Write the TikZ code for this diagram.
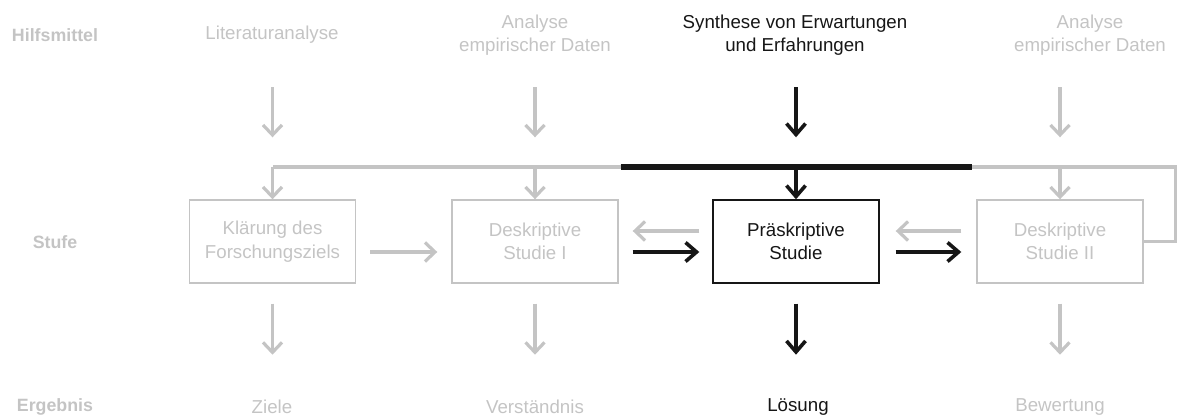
\documentclass[tikz,border=0pt]{standalone}
\usepackage{fontspec}
\setmainfont{Liberation Sans}
\usetikzlibrary{arrows.meta,calc}
\definecolor{hellgrau}{RGB}{196,196,196}
\definecolor{dunkel}{RGB}{22,22,22}

\begin{document}
\begin{tikzpicture}[x=1pt,y=-1pt,
    txt/.style={font=\fontsize{18.7}{23.5}\selectfont, align=center, text=hellgrau, inner sep=0pt},
    lab/.style={font=\fontsize{17.8}{22}\selectfont\bfseries, text=hellgrau, inner sep=0pt},
    stufe/.style={txt, draw=hellgrau, line width=1.4pt, minimum width=166pt, minimum height=83pt},
    gline/.style={draw=hellgrau, line width=3.2pt},
    bline/.style={draw=dunkel, line width=5pt},
    garr/.style={gline, -{Straight Barb[length=10pt,width=19pt]}},
    barr/.style={draw=dunkel, line width=3.6pt, -{Straight Barb[length=11pt,width=19pt]}}]
  \useasboundingbox (0,0) rectangle (1178,417);

  % Zeilenbeschriftung
  \node[lab] (hilfe) at (55,35) {Hilfsmittel};
  \node[lab] (stufe) at (55,242) {Stufe};
  \node[lab] (ergeb) at (55,407) {Ergebnis};

  % Hilfsmittel
  \node[txt] (in1) at (272,35) {Literaturanalyse};
  \node[txt] (in2) at (535,35) {Analyse\\empirischer Daten};
  \node[txt, text=dunkel] (in3) at (795,35) {Synthese von Erwartungen\\und Erfahrungen};
  \node[txt] (in4) at (1090,35) {Analyse\\empirischer Daten};

  % Stufen
  \node[stufe] (s1) at (272.5,241.5) {Kl\"arung des\\Forschungsziels};
  \node[stufe] (s2) at (535,241.5) {Deskriptive\\Studie I};
  \node[stufe, draw=dunkel, text=dunkel] (s3) at (796,241.5) {Pr\"askriptive\\Studie};
  \node[stufe] (s4) at (1060,241.5) {Deskriptive\\Studie II};

  % Ergebnisse
  \node[txt] (o1) at (272,407) {Ziele};
  \node[txt] (o2) at (535,407) {Verst\"andnis};
  \node[txt, text=dunkel] (o3) at (798,407) {L\"osung};
  \node[txt] (o4) at (1060,407) {Bewertung};

  % Pfeile von oben
  \foreach \n in {s1,s2,s4}
    \draw[garr] (\n.north) ++(0,-112) -- ++(0,50);
  \draw[barr] (s3.north) ++(0,-112) -- ++(0,50);

  % Rueckfuehrung
  \coordinate (bus) at (0,167);
  \draw[gline] (s4.east) -- ++(32,0) |- (s1.north |- bus);
  \foreach \n in {s1,s2,s4}
    \draw[garr] (\n.north |- bus) -- (\n.north);
  \draw[bline] ($(s3.north |- bus)+(-175.5,0)$) -- ++(351,0);
  \draw[barr] (s3.north |- bus) -- (s3.north);

  % zwischen den Stufen
  \draw[garr] ($(s1.east)+(14,10.5)$) -- ($(s2.west)+(-14,10.5)$);
  \draw[garr] ($(s3.west)+(-13,-10.5)$) -- ($(s2.east)+(14,-10.5)$);
  \draw[barr] ($(s2.east)+(14,10.5)$) -- ($(s3.west)+(-13,10.5)$);
  \draw[garr] ($(s4.west)+(-15,-10.5)$) -- ($(s3.east)+(16,-10.5)$);
  \draw[barr] ($(s3.east)+(16,10.5)$) -- ($(s4.west)+(-15,10.5)$);

  % Pfeile nach unten
  \foreach \n in {s1,s2,s4}
    \draw[garr] (\n.south) ++(0,20) -- ++(0,51);
  \draw[barr] (s3.south) ++(0,20) -- ++(0,51);
\end{tikzpicture}
\end{document}
